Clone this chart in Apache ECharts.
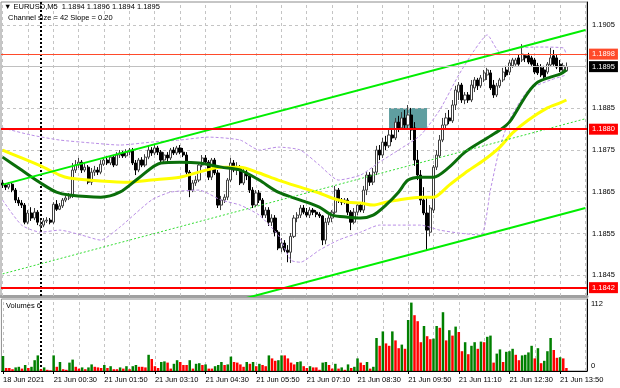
<!DOCTYPE html>
<html><head><meta charset="utf-8">
<script src="https://cdn.jsdelivr.net/npm/echarts@6/dist/echarts.min.js"></script>
<style>html,body{margin:0;padding:0;background:#fff}#c{width:620px;height:388px}</style>
</head><body><div id="c"></div>
<script>
// ---------- DATA ----------
const headerText = '\u25BC EURUSD,M5  1.1894 1.1896 1.1894 1.1895';
const channelText = 'Channel size = 42 Slope = 0.20';
const volumeTitle = 'Volumes 6';
const slotCount = 185; // 179 bars + empty right margin
// candles: [open, close, low, high]
const candles = [
[1.18671,1.18666,1.18659,1.18678],[1.18666,1.18661,1.18654,1.18671],[1.18661,1.18668,1.18656,1.18673],[1.18668,1.18654,1.18649,1.18673],
[1.18654,1.18630,1.18623,1.18659],[1.18630,1.18623,1.18616,1.18637],[1.18623,1.18618,1.18611,1.18630],[1.18618,1.18577,1.18572,1.18623],
[1.18577,1.18599,1.18572,1.18606],[1.18599,1.18587,1.18580,1.18613],[1.18587,1.18601,1.18582,1.18611],[1.18601,1.18577,1.18570,1.18606],
[1.18568,1.18570,1.18558,1.18582],[1.18570,1.18580,1.18565,1.18587],[1.18580,1.18582,1.18575,1.18589],[1.18582,1.18577,1.18572,1.18587],
[1.18577,1.18620,1.18572,1.18625],[1.18620,1.18608,1.18604,1.18630],[1.18608,1.18616,1.18606,1.18623],[1.18616,1.18630,1.18611,1.18635],
[1.18630,1.18635,1.18625,1.18640],[1.18635,1.18640,1.18630,1.18647],[1.18640,1.18702,1.18635,1.18719],[1.18702,1.18714,1.18695,1.18726],
[1.18714,1.18721,1.18707,1.18731],[1.18721,1.18702,1.18695,1.18726],[1.18702,1.18709,1.18697,1.18719],[1.18709,1.18673,1.18668,1.18714],
[1.18673,1.18697,1.18666,1.18707],[1.18697,1.18702,1.18688,1.18712],[1.18702,1.18697,1.18690,1.18709],[1.18697,1.18716,1.18692,1.18726],
[1.18716,1.18726,1.18712,1.18733],[1.18726,1.18719,1.18714,1.18736],[1.18719,1.18733,1.18714,1.18738],[1.18733,1.18714,1.18709,1.18738],
[1.18714,1.18738,1.18712,1.18745],[1.18738,1.18743,1.18731,1.18750],[1.18743,1.18736,1.18731,1.18748],[1.18736,1.18745,1.18731,1.18752],
[1.18745,1.18750,1.18738,1.18755],[1.18750,1.18719,1.18714,1.18755],[1.18719,1.18702,1.18690,1.18726],[1.18702,1.18726,1.18697,1.18731],
[1.18726,1.18714,1.18709,1.18733],[1.18714,1.18733,1.18709,1.18740],[1.18733,1.18750,1.18728,1.18760],[1.18750,1.18743,1.18736,1.18757],
[1.18743,1.18755,1.18738,1.18762],[1.18755,1.18745,1.18738,1.18760],[1.18745,1.18726,1.18719,1.18750],[1.18726,1.18738,1.18721,1.18745],
[1.18738,1.18731,1.18721,1.18745],[1.18731,1.18750,1.18726,1.18755],[1.18750,1.18743,1.18738,1.18757],[1.18743,1.18755,1.18738,1.18760],
[1.18755,1.18745,1.18740,1.18762],[1.18745,1.18738,1.18733,1.18755],[1.18738,1.18697,1.18690,1.18745],[1.18697,1.18654,1.18637,1.18702],
[1.18654,1.18671,1.18649,1.18678],[1.18671,1.18678,1.18664,1.18688],[1.18678,1.18714,1.18673,1.18719],[1.18714,1.18731,1.18709,1.18738],
[1.18731,1.18721,1.18714,1.18738],[1.18721,1.18685,1.18678,1.18726],[1.18685,1.18726,1.18678,1.18731],[1.18726,1.18695,1.18690,1.18731],
[1.18695,1.18618,1.18611,1.18702],[1.18618,1.18630,1.18606,1.18640],[1.18630,1.18637,1.18623,1.18644],[1.18637,1.18678,1.18630,1.18683],
[1.18678,1.18719,1.18673,1.18731],[1.18719,1.18702,1.18697,1.18726],[1.18702,1.18709,1.18690,1.18721],[1.18709,1.18671,1.18666,1.18714],
[1.18671,1.18697,1.18666,1.18707],[1.18697,1.18688,1.18678,1.18702],[1.18688,1.18654,1.18647,1.18692],[1.18654,1.18618,1.18611,1.18661],
[1.18618,1.18647,1.18613,1.18654],[1.18647,1.18630,1.18623,1.18654],[1.18630,1.18594,1.18587,1.18635],[1.18594,1.18606,1.18587,1.18613],
[1.18606,1.18577,1.18568,1.18613],[1.18577,1.18587,1.18568,1.18596],[1.18587,1.18553,1.18543,1.18594],[1.18553,1.18515,1.18510,1.18558],
[1.18515,1.18527,1.18505,1.18539],[1.18527,1.18510,1.18505,1.18534],[1.18510,1.18505,1.18481,1.18522],[1.18505,1.18543,1.18479,1.18551],
[1.18543,1.18587,1.18539,1.18594],[1.18587,1.18594,1.18577,1.18601],[1.18594,1.18611,1.18587,1.18618],[1.18611,1.18601,1.18596,1.18618],
[1.18601,1.18594,1.18589,1.18611],[1.18594,1.18606,1.18587,1.18613],[1.18606,1.18601,1.18594,1.18611],[1.18601,1.18596,1.18589,1.18606],
[1.18596,1.18592,1.18587,1.18601],[1.18592,1.18534,1.18522,1.18594],[1.18534,1.18577,1.18524,1.18587],[1.18577,1.18587,1.18570,1.18594],
[1.18587,1.18601,1.18577,1.18606],[1.18601,1.18654,1.18596,1.18664],[1.18654,1.18630,1.18623,1.18659],[1.18630,1.18625,1.18618,1.18635],
[1.18625,1.18630,1.18620,1.18635],[1.18630,1.18601,1.18594,1.18635],[1.18601,1.18577,1.18558,1.18606],[1.18577,1.18601,1.18572,1.18611],
[1.18601,1.18618,1.18594,1.18625],[1.18618,1.18606,1.18601,1.18625],[1.18606,1.18654,1.18599,1.18664],[1.18654,1.18690,1.18642,1.18697],
[1.18690,1.18673,1.18664,1.18697],[1.18673,1.18697,1.18666,1.18707],[1.18697,1.18750,1.18690,1.18760],[1.18750,1.18738,1.18726,1.18762],
[1.18738,1.18769,1.18731,1.18779],[1.18769,1.18760,1.18750,1.18784],[1.18760,1.18786,1.18755,1.18798],[1.18786,1.18779,1.18769,1.18798],
[1.18779,1.18817,1.18774,1.18827],[1.18817,1.18803,1.18793,1.18832],[1.18803,1.18827,1.18798,1.18841],[1.18827,1.18810,1.18803,1.18846],
[1.18810,1.18834,1.18798,1.18858],[1.18834,1.18798,1.18774,1.18851],[1.18803,1.18726,1.18712,1.18817],[1.18726,1.18690,1.18678,1.18750],
[1.18690,1.18630,1.18618,1.18702],[1.18630,1.18599,1.18594,1.18661],[1.18599,1.18558,1.18510,1.18635],[1.18553,1.18611,1.18543,1.18618],
[1.18606,1.18709,1.18599,1.18714],[1.18709,1.18738,1.18702,1.18750],[1.18736,1.18774,1.18731,1.18786],[1.18774,1.18810,1.18769,1.18827],
[1.18810,1.18827,1.18798,1.18839],[1.18827,1.18820,1.18812,1.18846],[1.18820,1.18858,1.18815,1.18870],[1.18858,1.18894,1.18846,1.18904],
[1.18889,1.18906,1.18870,1.18913],[1.18906,1.18870,1.18863,1.18911],[1.18870,1.18882,1.18860,1.18889],[1.18882,1.18870,1.18863,1.18889],
[1.18870,1.18906,1.18865,1.18918],[1.18899,1.18918,1.18889,1.18925],[1.18918,1.18904,1.18894,1.18923],[1.18904,1.18923,1.18899,1.18930],
[1.18918,1.18935,1.18913,1.18942],[1.18930,1.18942,1.18918,1.18947],[1.18935,1.18899,1.18894,1.18942],[1.18906,1.18882,1.18875,1.18918],
[1.18882,1.18904,1.18877,1.18911],[1.18904,1.18918,1.18899,1.18923],[1.18918,1.18937,1.18913,1.18947],[1.18942,1.18930,1.18925,1.18952],
[1.18937,1.18959,1.18930,1.18966],[1.18952,1.18966,1.18947,1.18971],[1.18956,1.18966,1.18952,1.18971],[1.18971,1.18956,1.18952,1.18978],
[1.18966,1.18980,1.18961,1.19004],[1.18976,1.18971,1.18961,1.18980],[1.18976,1.18961,1.18956,1.18983],[1.18971,1.18956,1.18952,1.18976],
[1.18966,1.18937,1.18932,1.18971],[1.18952,1.18935,1.18930,1.18959],[1.18947,1.18930,1.18925,1.18956],[1.18942,1.18925,1.18920,1.18952],
[1.18937,1.18956,1.18932,1.18961],[1.18954,1.18971,1.18949,1.18995],[1.18976,1.18956,1.18952,1.18990],[1.18971,1.18949,1.18944,1.18978],
[1.18956,1.18942,1.18937,1.18966],[1.18942,1.18952,1.18937,1.18959],[1.1894,1.1895,1.1894,1.1896]
];
const volumes = [
25,5,5,3,6,7,4,10,5,7,18,26,3,6,2,1,26,7,15,3,2,14,19,7,4,6,3,6,11,7,6,5,10,5,8,3,3,6,4,8,
3,8,10,7,7,6,27,20,8,5,15,16,14,4,12,18,15,10,10,18,4,12,13,10,11,4,4,8,10,15,10,11,24,15,14,11,7,15,12,15,
8,12,10,8,26,21,17,18,26,26,21,14,11,15,16,8,5,8,6,6,2,14,15,10,4,12,4,6,2,11,5,7,21,14,10,15,4,7,55,42,
66,46,42,66,51,38,44,37,85,114,93,83,48,75,58,53,54,75,72,98,51,68,59,74,65,33,48,28,42,48,37,49,48,57,59,14,29,36,15,32,
33,37,27,18,26,27,31,42,21,38,13,17,33,55,35,22,23,21,5
];
// moving averages and bands: [bar index, price]
const maGreen = [[0,1.18733],[6,1.18702],[12,1.18671],[17,1.18649],[21,1.18642],[31,1.18637],[37,1.18649],[43,1.18683],[50,1.18719],[56,1.18721],[62,1.18719],[69,1.18709],[75,1.18702],[81,1.18678],[87,1.18649],[94,1.18630],[100,1.18613],[104,1.18594],[109,1.18589],[113,1.18587],[117,1.18594],[121,1.18618],[125,1.18649],[128,1.18678],[132,1.18685],[136,1.18685],[141,1.18709],[146,1.18745],[153,1.18779],[157,1.18798],[160,1.18817],[163,1.18853],[166,1.18889],[169,1.18913],[173,1.18925],[176,1.18932],[178,1.18942]];
const maYellow = [[0,1.18750],[6,1.18731],[12,1.18712],[18,1.18690],[21,1.18683],[31,1.18676],[40,1.18673],[47,1.18678],[56,1.18685],[62,1.18697],[69,1.18709],[75,1.18709],[81,1.18695],[87,1.18678],[94,1.18661],[100,1.18647],[104,1.18635],[109,1.18625],[113,1.18623],[117,1.18618],[121,1.18625],[125,1.18630],[132,1.18637],[136,1.18637],[141,1.18666],[146,1.18695],[152,1.18726],[157,1.18757],[161,1.18791],[166,1.18822],[172,1.18851],[176,1.18863],[178,1.18870]];
const bandUpper = [[0,1.18803],[9,1.18786],[18,1.18774],[28,1.18767],[37,1.18762],[47,1.18769],[56,1.18774],[65,1.18781],[75,1.18774],[81,1.18750],[87,1.18757],[94,1.18750],[100,1.18714],[106,1.18678],[113,1.18690],[119,1.18721],[125,1.18750],[132,1.18786],[138,1.18846],[144,1.18930],[149,1.18990],[153,1.19026],[157,1.18985],[163,1.18995],[169,1.18997],[177,1.18995],[178,1.18978]];
const bandLower = [[0,1.18630],[6,1.18570],[12,1.18553],[18,1.18558],[25,1.18546],[31,1.18534],[37,1.18565],[47,1.18630],[53,1.18649],[62,1.18654],[69,1.18630],[75,1.18618],[81,1.18594],[87,1.18546],[91,1.18486],[94,1.18481],[100,1.18510],[106,1.18534],[113,1.18553],[119,1.18570],[125,1.18570],[132,1.18570],[138,1.18558],[144,1.18551],[151,1.18546],[154,1.18654],[157,1.18757],[160,1.18822],[166,1.18894],[173,1.18918],[178,1.18930]];
const channelUpper = [[0,1.18667],[184,1.19038]];
const channelMiddle = [[0,1.18453],[184,1.18825]];
const channelLower = [[0,1.18240],[184,1.18611]];
const priceTicks = [1.1905,1.1885,1.1875,1.1865,1.1855,1.1845];
const gridPrices = [1.1845,1.1855,1.1865,1.1875,1.1885,1.1895,1.1905];
const levelResistance = 1.1880, levelSupport = 1.1842, levelHigh = 1.1898, levelBid = 1.1895;
const boxArea = [122, 1.18851, 134, 1.18798];
const timeLabels = ['18 Jun 2021','21 Jun 00:30','21 Jun 01:50','21 Jun 03:10','21 Jun 04:30','21 Jun 05:50','21 Jun 07:10','21 Jun 08:30','21 Jun 09:50','21 Jun 11:10','21 Jun 12:30','21 Jun 13:50'];
const labelStep = 16, gridStep = 8, separatorIndex = 12;
const volTicks = [0, 112];

// ---------- CHART ----------
const FONT = "'Liberation Sans', Arial, sans-serif";
const cats = Array.from({length: slotCount}, (_, i) => String(i));
const vGrid = [];
for (let i = 0; i < slotCount; i += gridStep) vGrid.push(i);
const dashed = {color: '#c4c4c4', type: [3, 3], width: 1};
const sepStyle = {color: '#000', type: [2, 2], width: 2};
const bandStyle = {color: '#b98de6', width: 1, type: [3, 2]};

function levelLine(v, color, width, bg) {
  return {yAxis: v, lineStyle: {color: color, width: width, type: 'solid'},
    label: {show: true, position: 'end', distance: 2, formatter: v.toFixed(4), color: '#fff',
      backgroundColor: bg, padding: [2, 3, 1, 3], fontSize: 7.5, fontFamily: FONT}};
}

const option = {
  animation: false,
  backgroundColor: '#fff',
  title: [
    {text: headerText, left: 4, top: 3, padding: 0, textStyle: {fontSize: 7.5, fontWeight: 'normal', color: '#000', fontFamily: FONT}},
    {text: channelText, left: 8, top: 14, padding: 0, textStyle: {fontSize: 7.5, fontWeight: 'normal', color: '#000', fontFamily: FONT}},
    {text: volumeTitle, left: 6, top: 302, padding: 0, textStyle: {fontSize: 7.5, fontWeight: 'normal', color: '#000', fontFamily: FONT}}
  ],
  grid: [
    {left: 1, right: 33, top: 2, height: 294, show: true, borderColor: '#8c8c8c', borderWidth: 1},
    {left: 1, right: 33, top: 299, height: 72, show: true, borderColor: '#8c8c8c', borderWidth: 1}
  ],
  xAxis: [
    {type: 'category', gridIndex: 0, data: cats, boundaryGap: true,
      axisLine: {show: true, onZero: false, lineStyle: {color: '#a0a0a0', width: 3}},
      axisTick: {show: false}, axisLabel: {show: false}, splitLine: {show: false}},
    {type: 'category', gridIndex: 1, data: cats, boundaryGap: true,
      axisLine: {show: true, onZero: false, lineStyle: {color: '#000', width: 1}},
      axisTick: {show: true, alignWithLabel: true, length: 3, lineStyle: {color: '#000'},
        interval: (i) => i % labelStep === 0},
      axisLabel: {show: true, align: 'left', margin: 5, fontSize: 7.5, color: '#000', fontFamily: FONT,
        hideOverlap: false,
        interval: (i) => i % labelStep === 0 && i / labelStep < timeLabels.length,
        formatter: (v, i) => timeLabels[i / labelStep] || ''},
      splitLine: {show: false}}
  ],
  yAxis: [
    {type: 'value', gridIndex: 0, position: 'right', min: 1.1840, max: 1.19105, interval: 0.0005,
      axisLine: {show: true, lineStyle: {color: '#000'}}, axisTick: {show: false}, splitLine: {show: false},
      axisLabel: {show: true, margin: 5, fontSize: 7.5, color: '#000', fontFamily: FONT,
        formatter: (v) => priceTicks.some(t => Math.abs(t - v) < 1e-7) ? v.toFixed(4) : ''}},
    {type: 'value', gridIndex: 1, position: 'right', min: 0, max: 120, interval: 112,
      axisLine: {show: true, lineStyle: {color: '#000'}}, axisTick: {show: false}, splitLine: {show: false},
      axisLabel: {show: true, margin: 4, fontSize: 7.5, color: '#000', fontFamily: FONT,
        formatter: (v) => v === volTicks[0] ? '{z|' + v + '}' : (v === volTicks[1] ? String(v) : ''),
        rich: {z: {padding: [0, 0, 10, 0], fontSize: 7.5, fontFamily: FONT, color: '#000'}}}}
  ],
  series: [
    // candles with grid lines and the box behind them
    {type: 'candlestick', xAxisIndex: 0, yAxisIndex: 0, data: candles, z: 2, barWidth: 2.6,
      itemStyle: {color: '#ffffff', color0: '#000000', borderColor: '#404040', borderColor0: '#000000', borderWidth: 1},
      markLine: {symbol: 'none', silent: true, z: 1, precision: 6, label: {show: false}, animation: false,
        data: gridPrices.map(p => ({yAxis: p, lineStyle: dashed}))
          .concat(vGrid.map(i => ({xAxis: i, lineStyle: dashed})))
          .concat([{xAxis: separatorIndex, lineStyle: sepStyle}])},
      markArea: {silent: true, z: 1, itemStyle: {color: '#5f9ea0', opacity: 1},
        data: [[{coord: [boxArea[0], boxArea[1]]}, {coord: [boxArea[2], boxArea[3]]}]]}},
    // bands
    {type: 'line', data: bandUpper, showSymbol: false, smooth: 0.2, z: 3, lineStyle: bandStyle},
    {type: 'line', data: bandLower, showSymbol: false, smooth: 0.2, z: 3, lineStyle: bandStyle},
    // moving averages
    {type: 'line', data: maYellow, showSymbol: false, smooth: 0.3, z: 4, lineStyle: {color: '#ffff00', width: 3}},
    {type: 'line', data: maGreen, showSymbol: false, smooth: 0.3, z: 4, lineStyle: {color: '#0a6e0a', width: 3}},
    // channel
    {type: 'line', data: channelUpper, showSymbol: false, z: 5, lineStyle: {color: '#00ee00', width: 2}},
    {type: 'line', data: channelLower, showSymbol: false, z: 5, lineStyle: {color: '#00ee00', width: 2}},
    {type: 'line', data: channelMiddle, showSymbol: false, z: 5, lineStyle: {color: '#33dd33', width: 1, type: [2, 2]},
      markLine: {symbol: 'none', silent: true, z: 6, precision: 6, animation: false,
        data: [
          levelLine(levelBid, '#c0c0c0', 1, '#000000'),
          levelLine(levelHigh, '#ff4a2a', 1, '#ff4a2a'),
          levelLine(levelResistance, '#ff0000', 2, '#ff0000'),
          levelLine(levelSupport, '#ff0000', 2, '#ff0000')
        ]}},
    // volumes
    {type: 'bar', xAxisIndex: 1, yAxisIndex: 1, data: volumes, barWidth: 2.5, z: 2,
      itemStyle: {color: (p) => (p.dataIndex === 0 || volumes[p.dataIndex] > volumes[p.dataIndex - 1]) ? '#008000' : '#ff0000'},
      markLine: {symbol: 'none', silent: true, z: 1, label: {show: false}, animation: false,
        data: vGrid.map(i => ({xAxis: i, lineStyle: dashed}))
          .concat([{xAxis: separatorIndex, lineStyle: sepStyle}])}}
  ]
};
const chart = echarts.init(document.getElementById('c'), null, {renderer: 'canvas'});
chart.setOption(option);
</script></body></html>
